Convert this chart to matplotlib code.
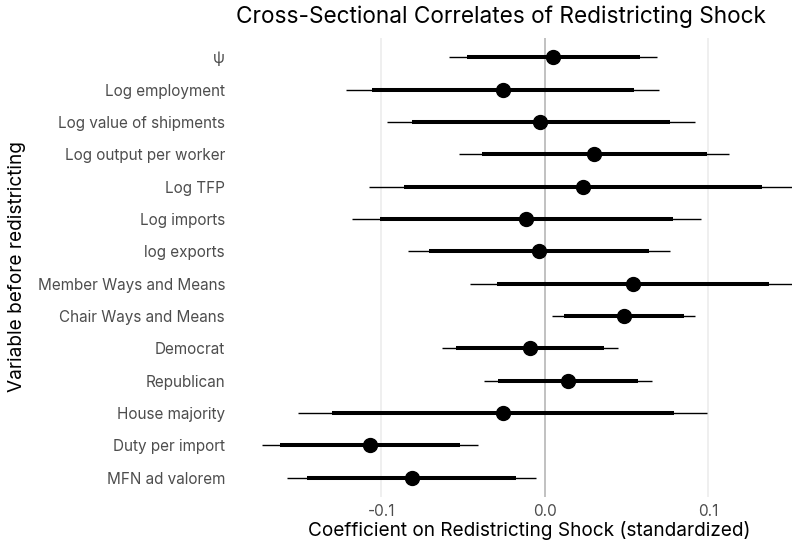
import matplotlib
matplotlib.use("Agg")
import matplotlib.pyplot as plt

plt.rcParams['font.family'] = ['Inter', 'DejaVu Sans']

variables = ["ψ", "Log employment", "Log value of shipments", "Log output per worker",
             "Log TFP", "Log imports", "log exports", "Member Ways and Means",
             "Chair Ways and Means", "Democrat", "Republican", "House majority",
             "Duty per import", "MFN ad valorem"]
estimate = [0.0050, -0.0258, -0.0028, 0.0302, 0.0232, -0.0116, -0.0037, 0.0538,
            0.0481, -0.0092, 0.0140, -0.0258, -0.1070, -0.0816]
ci90_low = [-0.0479, -0.1059, -0.0816, -0.0385, -0.0864, -0.1007, -0.0709, -0.0295,
            0.0116, -0.0543, -0.0289, -0.1304, -0.1621, -0.1453]
ci90_high = [0.0582, 0.0545, 0.0764, 0.0993, 0.1330, 0.0781, 0.0635, 0.1370,
             0.0849, 0.0359, 0.0571, 0.0788, -0.0519, -0.0179]
ci95_low = [-0.0584, -0.1214, -0.0969, -0.0523, -0.1079, -0.1182, -0.0840, -0.0457,
            0.0042, -0.0630, -0.0372, -0.1508, -0.1731, -0.1580]
ci95_high = [0.0683, 0.0700, 0.0915, 0.1127, 0.1600, 0.0954, 0.0764, 0.1650,
             0.0919, 0.0449, 0.0654, 0.0989, -0.0411, -0.0055]
xticks = [-0.1, 0.0, 0.1]
xtick_labels = ["-0.1", "0.0", "0.1"]

W, H = 792, 548
fig = plt.figure(figsize=(W / 100, H / 100), dpi=100)
left, right, top, bottom = 232, 792, 38, 497
ax = fig.add_axes([left / W, 1 - bottom / H, (right - left) / W, (bottom - top) / H])

n = len(variables)
ypos = list(range(n, 0, -1))

for x in xticks:
    ax.axvline(x, color="#EBEBEB", lw=1.1, zorder=0)
ax.axvline(0, color="#BEBEBE", lw=1.3, zorder=1)

ax.hlines(ypos, ci95_low, ci95_high, color="black", lw=1.0, zorder=2)
ax.hlines(ypos, ci90_low, ci90_high, color="black", lw=2.9, zorder=3)
ax.plot(estimate, ypos, "o", color="black", ms=10, zorder=4)

ax.set_xlim(-0.1914, 0.1511)
ax.set_ylim(0.4, n + 0.6)
ax.set_xticks(xticks)
ax.set_xticklabels(xtick_labels)
ax.set_yticks(ypos)
ax.set_yticklabels(variables)
ax.tick_params(axis="both", length=0, labelsize=11, labelcolor="#4D4D4D")
ax.tick_params(axis="y", pad=5)
ax.tick_params(axis="x", pad=5)
for s in ax.spines.values():
    s.set_visible(False)

fig.text(501 / W, 1 - 17 / H, "Cross-Sectional Correlates of Redistricting Shock",
         ha="center", va="center", fontsize=16.3, color="black")
fig.text(529 / W, 1 - 530 / H, "Coefficient on Redistricting Shock (standardized)",
         ha="center", va="center", fontsize=13.7, color="black")
fig.text(17 / W, 1 - 267 / H, "Variable before redistricting", rotation=90,
         ha="center", va="center", fontsize=13.7, color="black")

fig.savefig("out.png", dpi=100)
